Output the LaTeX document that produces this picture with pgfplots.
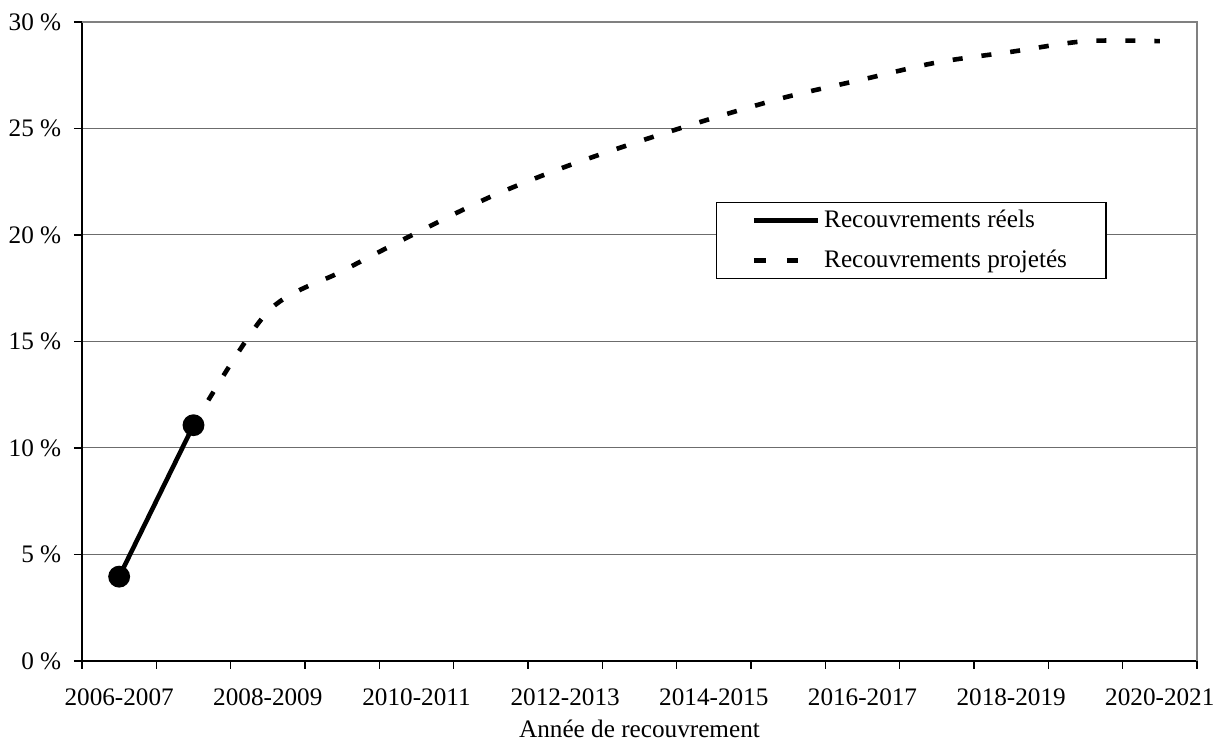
\documentclass[border=0pt]{standalone}
\usepackage{fontspec}
\setmainfont{Liberation Serif}
\usepackage{pgfplots}
\pgfplotsset{compat=1.18}
\begin{document}
\fontsize{12.6}{15}\selectfont
\begin{tikzpicture}
\begin{axis}[
  name=ax,
  scale only axis,
  width=557.5pt, height=319.5pt,
  xmin=-0.5, xmax=14.5,
  ymin=0, ymax=30,
  axis x line*=bottom, axis y line*=left,
  axis line style={black, line width=0.7pt, -},
  xtick={-0.5,0.5,...,14.5},
  xticklabels={},
  extra x ticks={0,2,4,6,8,10,12,14},
  extra x tick labels={2006-2007,2008-2009,2010-2011,2012-2013,2014-2015,2016-2017,2018-2019,2020-2021},
  extra x tick style={major tick length=0pt, grid=none, xticklabel style={yshift=-9.5pt}},
  ytick={0,5,10,15,20,25,30},
  yticklabel={\pgfmathprintnumber{\tick}~\%},
  yticklabel style={xshift=-2pt},
  /pgf/number format/assume math mode=true,
  tick align=outside,
  major tick length=4pt,
  tick style={black, line width=0.6pt},
  ymajorgrids,
  grid style={gray!85!black, line width=0.5pt},
  xlabel={Année de recouvrement},
  xlabel style={at={(axis description cs:0.5,0)}, anchor=base, yshift=-38.5pt},
  every tick label/.append style={font=\fontsize{12.6}{15}\selectfont},
  legend style={at={(rel axis cs:0.5686,0.718)}, anchor=north west, draw=black, line width=0.6pt,
    font=\fontsize{12.6}{15}\selectfont, row sep=5.5pt, inner xsep=17.5pt, inner ysep=1.5pt},
  legend cell align=left,
  clip=false,
]
\draw[gray, line width=0.7pt] (rel axis cs:0,1) -- (rel axis cs:1,1) -- (rel axis cs:1,0);
\addplot[black, line width=2.3pt, mark=*, mark size=4.3pt, mark options={solid},
  legend image code/.code={\draw[black, line width=2.3pt] (0pt,0pt) -- (32pt,0pt);}]
  coordinates {(0,3.96) (1,11.07)};
\addlegendentry{Recouvrements réels}
\addplot[black, line width=2.3pt, smooth, dash pattern=on 5pt off 9.5pt,
  legend image code/.code={\draw[black, line width=2.3pt, dash pattern=on 6pt off 10.5pt] (0pt,0pt) -- (22pt,0pt);}]
  coordinates {(1,11.07) (2,16.4) (3,18.3) (4,20.1) (5,21.8) (6,23.2) (7,24.4) (8,25.5) (9,26.5) (10,27.3) (11,28.1) (12,28.6) (13,29.1) (14,29.1)};
\addlegendentry{Recouvrements projetés}
\end{axis}
\pgfresetboundingbox
\path ([xshift=-41pt,yshift=-40.5pt]ax.south west) rectangle ([xshift=10pt,yshift=11pt]ax.north east);
\end{tikzpicture}
\end{document}
